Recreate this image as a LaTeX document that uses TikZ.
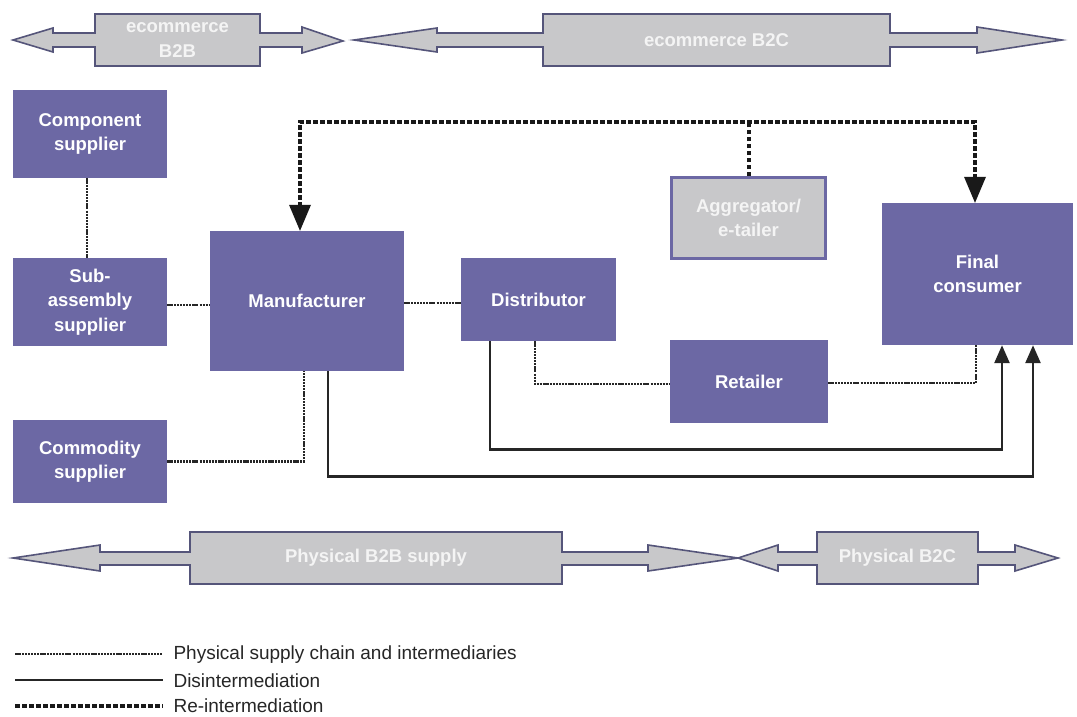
\documentclass[tikz,border=0pt]{standalone}
\usepackage{fontspec}
\setmainfont{Liberation Sans}
\usetikzlibrary{arrows.meta,calc}
\definecolor{boxpurple}{HTML}{6C68A4}
\definecolor{arrowgray}{HTML}{C8C8CA}
\definecolor{arrowedge}{HTML}{55557A}
\definecolor{labelwhite}{HTML}{F4F4F4}
\tikzset{
  box/.style={fill=boxpurple, draw=none, text=white, align=center,
    font=\fontsize{18.5}{24.5}\selectfont\bfseries, inner sep=0pt},
  graybox/.style={box, fill=arrowgray, draw=boxpurple, line width=3pt, text=labelwhite},
  bigarrow/.style={fill=arrowgray, draw=arrowedge, line width=1.6pt, line join=miter},
  arrowlabel/.style={text=labelwhite, align=center, font=\fontsize{18.5}{24.5}\selectfont\bfseries},
  phys/.style={draw=black!85, line width=2.2pt, dash pattern=on 6pt off 1.2pt on 2pt off 1pt on 2pt off 1pt on 2pt off 1pt on 2pt off 1pt on 2pt off 1pt on 2pt off 1pt},
  disint/.style={draw=black!85, line width=2.6pt},
  reint/.style={draw=black!90, line width=4pt, dash pattern=on 4.5pt off 2.5pt},
  legendtext/.style={anchor=west, text=black!85, font=\fontsize{19}{21}\selectfont},
}
\begin{document}
\begin{tikzpicture}[x=1pt,y=-1pt]
\useasboundingbox (0,0) rectangle (1077,716);

% ---- top double arrows ----
\draw[bigarrow] (13,40) -- (53,28) -- (53,33) -- (95,33) -- (95,14) -- (260,14) -- (260,33)
  -- (302,33) -- (302,27) -- (343,41) -- (302,53) -- (302,47) -- (260,47) -- (260,66)
  -- (95,66) -- (95,47) -- (53,47) -- (53,52) -- cycle;
\node[arrowlabel] (eb2b) at (177.5,40) {ecommerce\\B2B};

\draw[bigarrow] (354,40) -- (437,28) -- (437,33) -- (543,33) -- (543,14) -- (890,14) -- (890,33)
  -- (977,33) -- (977,27) -- (1062,40) -- (977,53) -- (977,47) -- (890,47) -- (890,66)
  -- (543,66) -- (543,47) -- (437,47) -- (437,52) -- cycle;
\node[arrowlabel] (eb2c) at (716.5,40) {ecommerce B2C};

% ---- bottom double arrows ----
\draw[bigarrow] (13,558) -- (100,545) -- (100,552) -- (190,552) -- (190,532) -- (562,532) -- (562,552)
  -- (648,552) -- (648,545) -- (738,558) -- (648,571) -- (648,565) -- (562,565) -- (562,584)
  -- (190,584) -- (190,565) -- (100,565) -- (100,571) -- cycle;
\node[arrowlabel] (pb2b) at (376,558) {Physical B2B supply};

\draw[bigarrow] (738,558) -- (778,545) -- (778,552) -- (817,552) -- (817,532) -- (978,532) -- (978,552)
  -- (1015,552) -- (1015,545) -- (1058,558) -- (1015,571) -- (1015,565) -- (978,565) -- (978,584)
  -- (817,584) -- (817,565) -- (778,565) -- (778,571) -- cycle;
\node[arrowlabel] (pb2c) at (897.5,558) {Physical B2C};

% ---- boxes ----
\node[box, minimum width=154pt, minimum height=88pt] (comp) at (90,134) {Component\\supplier};
\node[box, minimum width=154pt, minimum height=88pt] (sub) at (90,302) {Sub-\\assembly\\supplier};
\node[box, minimum width=154pt, minimum height=83pt] (comm) at (90,461.5) {Commodity\\supplier};
\node[box, minimum width=194pt, minimum height=140pt] (manu) at (307,301) {Manufacturer};
\node[box, minimum width=155pt, minimum height=83pt] (dist) at (538.5,299.5) {Distributor};
\node[graybox, minimum width=154pt, minimum height=81pt] (agg) at (748.5,218) {Aggregator/\\e-tailer};
\node[box, minimum width=191pt, minimum height=142pt] (fin) at (977.5,274) {Final\\consumer};
\node[box, minimum width=158pt, minimum height=83pt] (ret) at (749,381.5) {Retailer};

% ---- physical supply chain ----
\draw[phys] ([xshift=-3pt]comp.south) -- ([xshift=-3pt]sub.north);
\draw[phys] ([yshift=-3pt]sub.east) -- ([yshift=-3pt]sub.east -| manu.west);
\draw[phys] ([yshift=-2pt]manu.east) -- ([yshift=-2pt]manu.east -| dist.west);
\draw[phys] (comm.east) -| ([xshift=-3pt]manu.south);
\draw[phys] ([xshift=-3.5pt]dist.south) |- ([yshift=-2.5pt]ret.west);
\draw[phys] ([yshift=-1.5pt]ret.east) -| ([xshift=-1.5pt]fin.south);

% ---- disintermediation ----
\draw[disint, -{Triangle[length=18pt,width=15pt]}] ([xshift=-48.5pt]dist.south) -- ++(0,108) -| ([xshift=24.5pt]fin.south);
\draw[disint, -{Triangle[length=18pt,width=15pt]}] ([xshift=21pt]manu.south) -- ++(0,105) -| ([xshift=55.5pt]fin.south);

% ---- re-intermediation ----
\coordinate (retop) at (300,122);
\draw[reint] (agg.north) -- (agg.north |- retop);
\draw[reint] ([xshift=-7pt,yshift=24pt]manu.north) -- (retop) -| ([xshift=-2.5pt,yshift=24pt]fin.north);
\draw[draw=none, fill=black!90] ([xshift=-7pt]manu.north) -- ++(-11,-26) -- ++(22,0) -- cycle;
\draw[draw=none, fill=black!90] ([xshift=-2.5pt]fin.north) -- ++(-11,-26) -- ++(22,0) -- cycle;

% ---- legend ----
\coordinate (l1a) at (15,654); \coordinate (l1b) at (163,654);
\coordinate (l2a) at (15,680); \coordinate (l2b) at (163,680);
\coordinate (l3a) at (15,706); \coordinate (l3b) at (163,706);
\draw[phys] (l1a) -- (l1b);
\draw[disint, line width=2.2pt] (l2a) -- (l2b);
\draw[reint] (l3a) -- (l3b);
\node[legendtext] (t1) at (170,655) {Physical supply chain and intermediaries};
\node[legendtext] (t2) at (170,681) {Disintermediation};
\node[legendtext] (t3) at (170,706) {Re-intermediation};
\end{tikzpicture}
\end{document}
